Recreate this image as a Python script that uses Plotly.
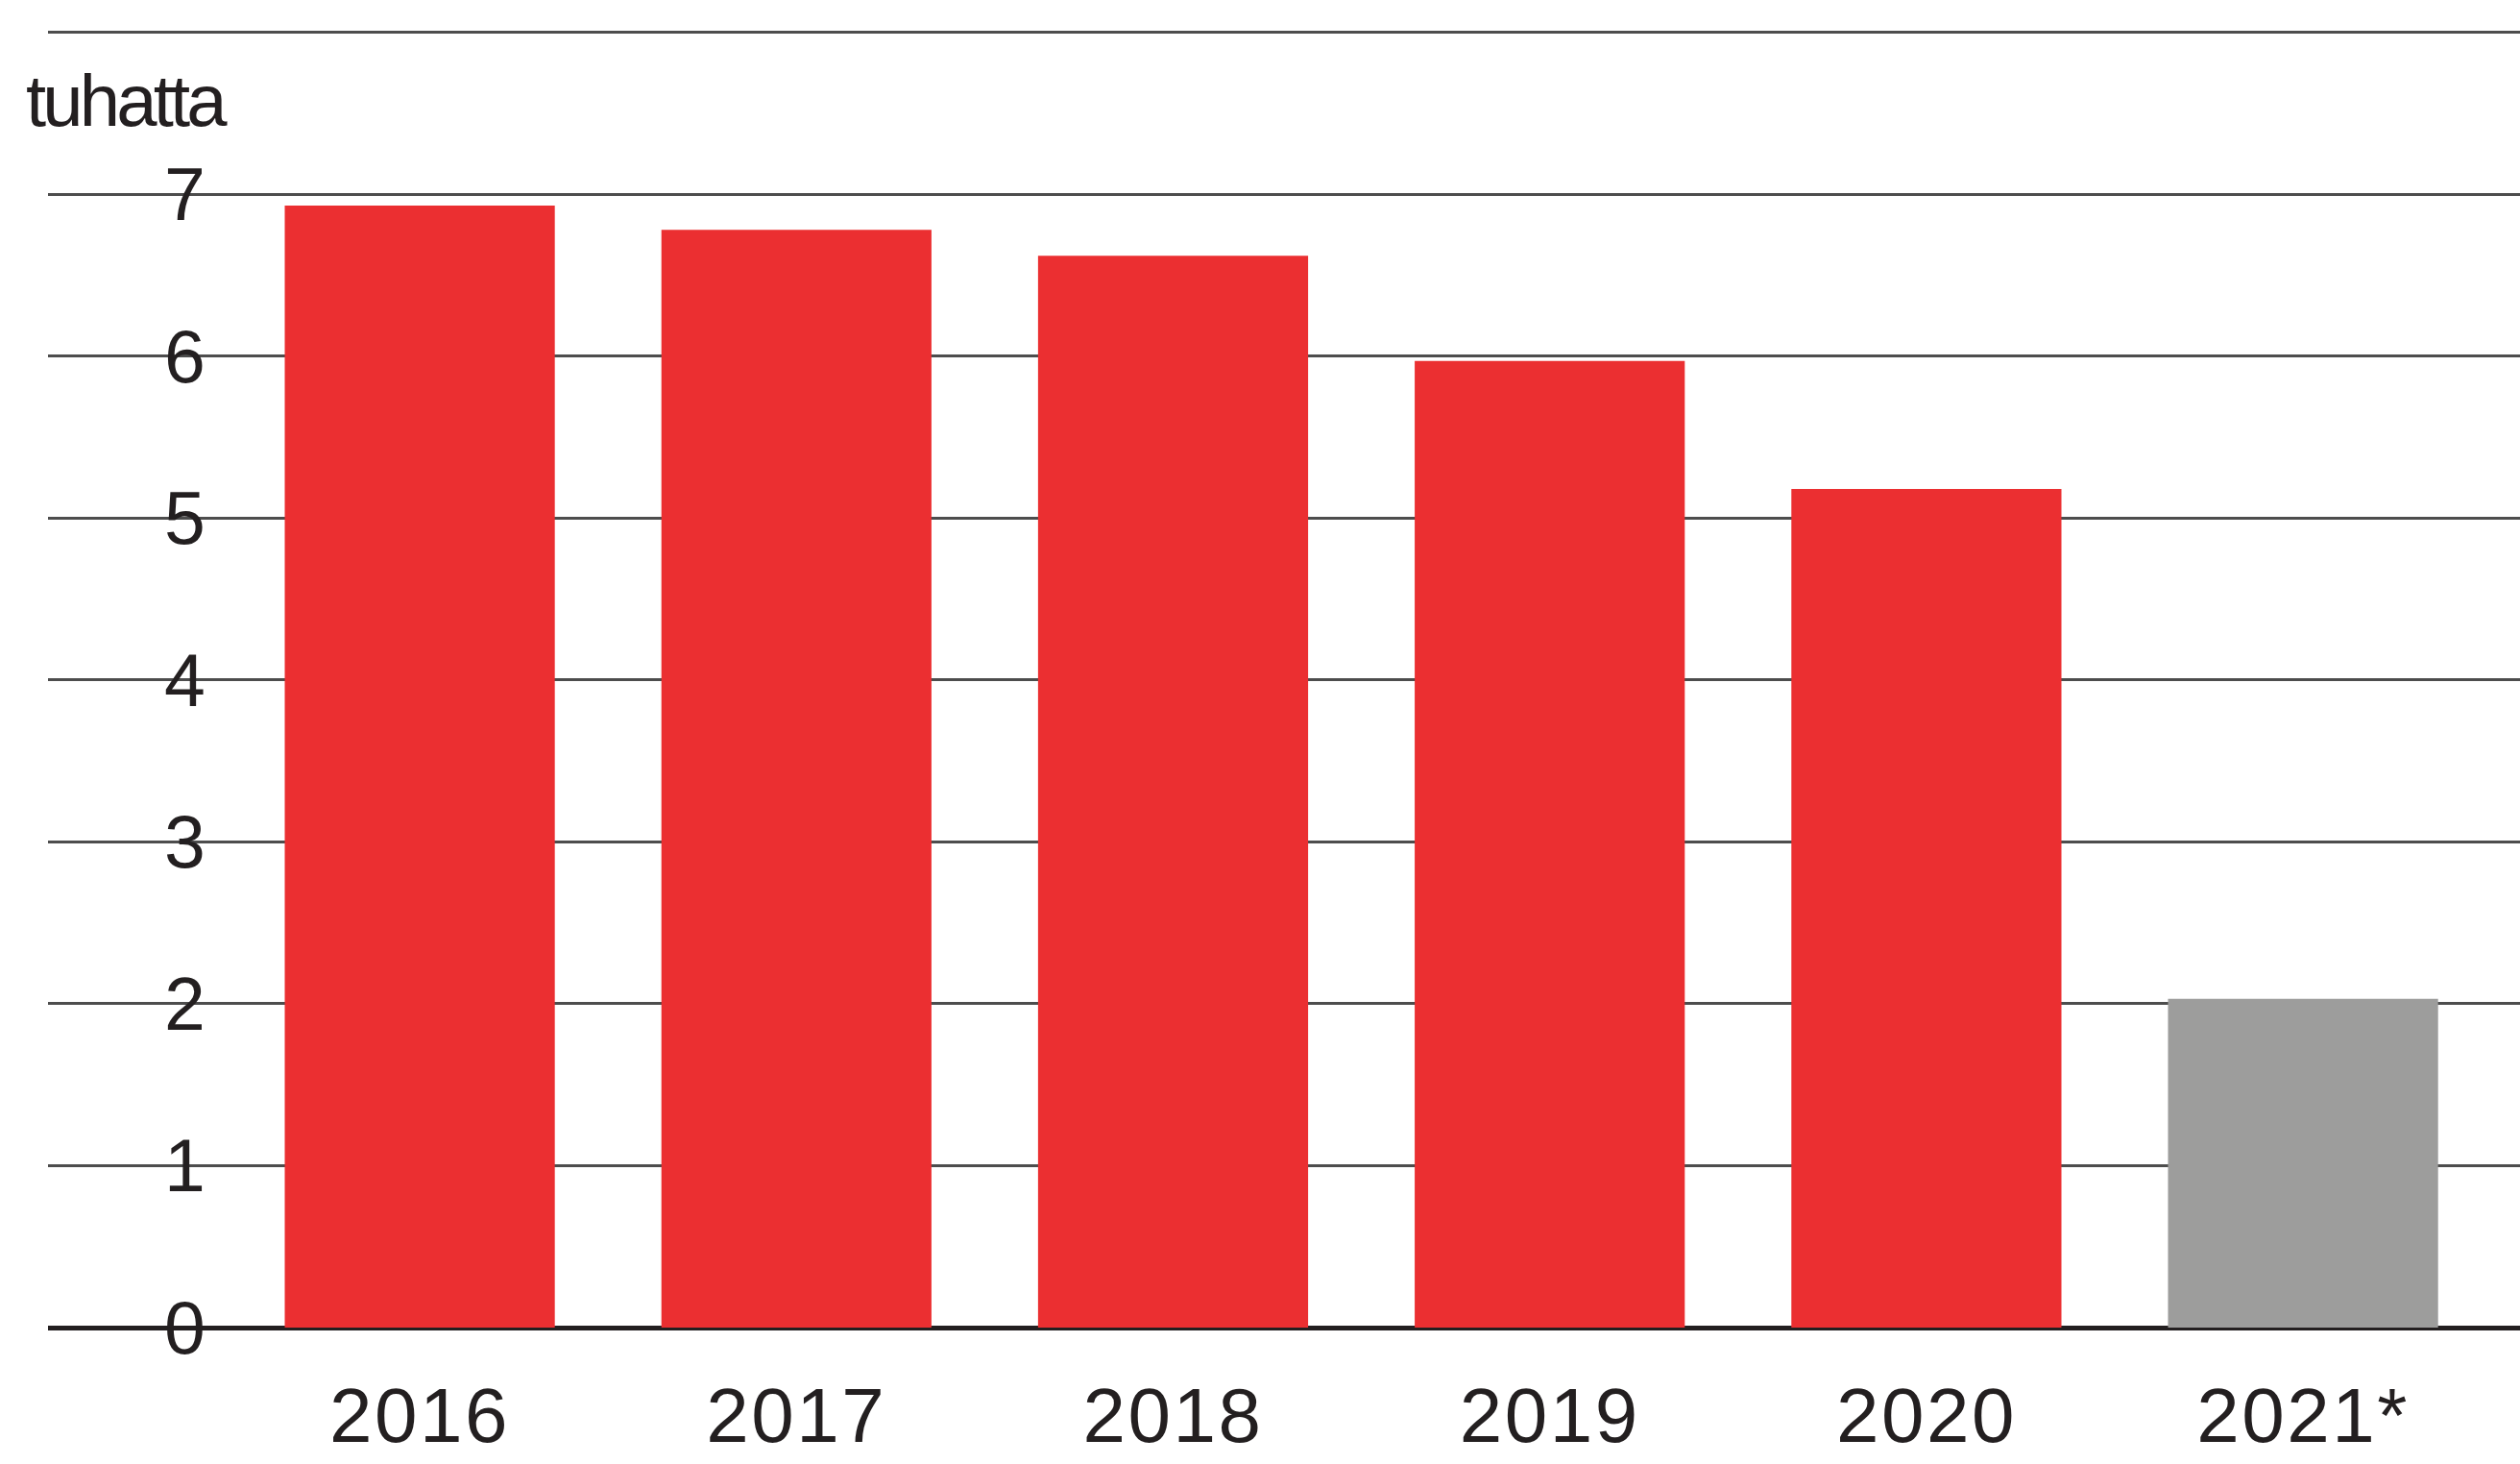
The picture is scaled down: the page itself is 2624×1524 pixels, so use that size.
import plotly.graph_objects as go

years = ["2016", "2017", "2018", "2019", "2020", "2021*"]
values = [6.93, 6.78, 6.62, 5.97, 5.18, 2.03]
bar_colors = ["#EB2F31", "#EB2F31", "#EB2F31", "#EB2F31", "#EB2F31", "#9D9D9C"]
y_ticks = [0, 1, 2, 3, 4, 5, 6, 7, 8]
y_ticktext = ["0", "1", "2", "3", "4", "5", "6", "7", ""]
unit_label = "tuhatta"

W, H = 2624, 1524
ml, mr, mt, mb = 50, 0, 32, 142

FONT = "Liberation Sans, Arial, Helvetica, sans-serif"
INK = "#231F20"

fig = go.Figure()
fig.add_trace(go.Bar(
    x=list(range(len(years))),
    y=values,
    marker=dict(color=bar_colors, line=dict(width=0)),
    hoverinfo="skip",
))

fig.update_layout(
    width=W, height=H,
    margin=dict(l=ml, r=mr, t=mt, b=mb, pad=0),
    paper_bgcolor="white",
    plot_bgcolor="white",
    showlegend=False,
    bargap=0.283,
    font=dict(family=FONT, color=INK),
)

fig.update_xaxes(
    range=[-0.987, 5.576],
    tickmode="array",
    tickvals=list(range(len(years))),
    ticktext=['<span style="letter-spacing:2.5px">%s</span>' % y for y in years],
    ticks="",
    showgrid=False,
    zeroline=False,
    showline=False,
    tickfont=dict(size=80, family=FONT, color=INK),
    ticklabelstandoff=38,
)

fig.update_yaxes(
    range=[0, 8.01],
    tickmode="array",
    tickvals=y_ticks,
    ticktext=y_ticktext,
    ticks="",
    showgrid=True,
    gridcolor="#4D4D4D",
    gridwidth=3,
    zeroline=True,
    zerolinecolor=INK,
    zerolinewidth=5,
    showline=False,
    ticklabelposition="inside",
    ticklabeloverflow="allow",
    ticklabelstandoff=118,
    tickfont=dict(size=77, family=FONT, color=INK),
)

plot_h = H - mt - mb
fig.add_annotation(
    text='<span style="letter-spacing:-3.8px">%s</span>' % unit_label,
    xref="paper", yref="paper",
    x=(25 - ml) / (W - ml - mr), y=(H - mb - 104) / plot_h,
    xanchor="left", yanchor="middle",
    showarrow=False,
    font=dict(size=76, family=FONT, color=INK),
)

fig.write_html(
    "out.html",
    config={"displayModeBar": False},
    post_script="document.body.style.margin='0';",
)
